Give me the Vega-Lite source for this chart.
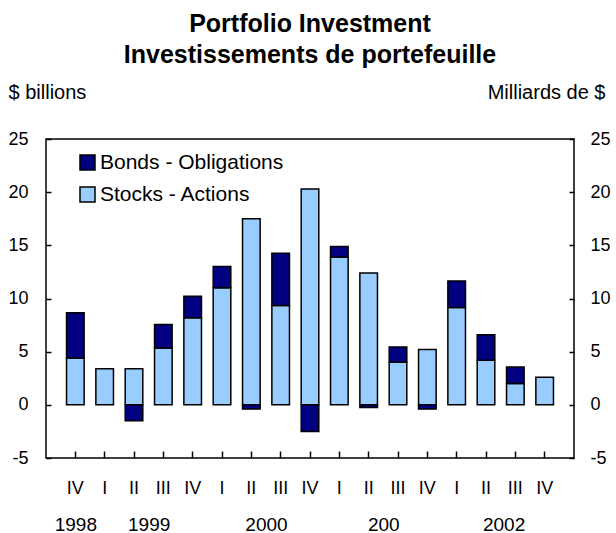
{
  "$schema": "https://vega.github.io/schema/vega-lite/v6.json",
  "autosize": "none",
  "width": 528,
  "height": 319,
  "padding": {"left": 46, "top": 139, "right": 42, "bottom": 75},
  "background": "white",
  "title": {
    "text": ["Portfolio Investment", "Investissements de portefeuille"],
    "fontSize": 25,
    "fontWeight": "bold",
    "color": "black",
    "anchor": "middle",
    "frame": "group",
    "lineHeight": 31,
    "offset": 14
  },
  "config": {
    "font": "Liberation Sans",
    "view": {"stroke": "black", "strokeWidth": 1.5},
    "axis": {"domainColor": "black", "domainWidth": 1.5, "tickColor": "black", "tickWidth": 1.5, "labelColor": "black", "titleColor": "black", "grid": false}
  },
  "resolve": {"scale": {"x": "independent", "y": "independent"}},
  "datasets": {
    "flows": [
      {"q": "1998-IV", "type": "Stocks - Actions", "value": 4.4},
      {"q": "1998-IV", "type": "Bonds - Obligations", "value": 4.25},
      {"q": "1999-I", "type": "Stocks - Actions", "value": 3.4},
      {"q": "1999-II", "type": "Stocks - Actions", "value": 3.4},
      {"q": "1999-II", "type": "Bonds - Obligations", "value": -1.5},
      {"q": "1999-III", "type": "Stocks - Actions", "value": 5.35},
      {"q": "1999-III", "type": "Bonds - Obligations", "value": 2.2},
      {"q": "1999-IV", "type": "Stocks - Actions", "value": 8.2},
      {"q": "1999-IV", "type": "Bonds - Obligations", "value": 2.0},
      {"q": "2000-I", "type": "Stocks - Actions", "value": 11.0},
      {"q": "2000-I", "type": "Bonds - Obligations", "value": 2.0},
      {"q": "2000-II", "type": "Stocks - Actions", "value": 17.5},
      {"q": "2000-II", "type": "Bonds - Obligations", "value": -0.4},
      {"q": "2000-III", "type": "Stocks - Actions", "value": 9.35},
      {"q": "2000-III", "type": "Bonds - Obligations", "value": 4.9},
      {"q": "2000-IV", "type": "Stocks - Actions", "value": 20.3},
      {"q": "2000-IV", "type": "Bonds - Obligations", "value": -2.5},
      {"q": "2001-I", "type": "Stocks - Actions", "value": 13.9},
      {"q": "2001-I", "type": "Bonds - Obligations", "value": 1.0},
      {"q": "2001-II", "type": "Stocks - Actions", "value": 12.4},
      {"q": "2001-II", "type": "Bonds - Obligations", "value": -0.25},
      {"q": "2001-III", "type": "Stocks - Actions", "value": 4.0},
      {"q": "2001-III", "type": "Bonds - Obligations", "value": 1.45},
      {"q": "2001-IV", "type": "Stocks - Actions", "value": 5.2},
      {"q": "2001-IV", "type": "Bonds - Obligations", "value": -0.4},
      {"q": "2002-I", "type": "Stocks - Actions", "value": 9.15},
      {"q": "2002-I", "type": "Bonds - Obligations", "value": 2.5},
      {"q": "2002-II", "type": "Stocks - Actions", "value": 4.2},
      {"q": "2002-II", "type": "Bonds - Obligations", "value": 2.4},
      {"q": "2002-III", "type": "Stocks - Actions", "value": 2.0},
      {"q": "2002-III", "type": "Bonds - Obligations", "value": 1.55},
      {"q": "2002-IV", "type": "Stocks - Actions", "value": 2.6}
    ],
    "years": [
      {"pos": 1, "year": "1998"},
      {"pos": 3.5, "year": "1999"},
      {"pos": 7.5, "year": "2000"},
      {"pos": 11.5, "year": "200"},
      {"pos": 15.6, "year": "2002"}
    ]
  },
  "layer": [
    {
      "data": {"name": "flows"},
      "mark": {"type": "bar", "width": {"band": 0.6}, "stroke": "black", "strokeWidth": 1.5},
      "encoding": {
        "x": {
          "field": "q",
          "type": "nominal",
          "sort": null,
          "scale": {"paddingInner": 0, "paddingOuter": 0.5},
          "axis": {
            "title": null,
            "labelAngle": 0,
            "labelExpr": "split(datum.value, '-')[1]",
            "labelFontSize": 18,
            "ticks": true,
            "tickSize": 7,
            "offset": -7,
            "labelPadding": 21,
            "domain": false
          }
        },
        "y": {
          "field": "value",
          "type": "quantitative",
          "stack": "zero",
          "scale": {"domain": [-5, 25], "nice": false, "zero": false},
          "axis": {
            "values": [-5, 0, 5, 10, 15, 20, 25],
            "labelExpr": "datum.value + ''",
            "labelFontSize": 18,
            "ticks": true,
            "tickSize": 5,
            "offset": -5,
            "domain": false,
            "labelPadding": 18,
            "title": "$ billions",
            "titleAngle": 0,
            "titleAlign": "left",
            "titleBaseline": "middle",
            "titleFontSize": 20,
            "titleFontWeight": "normal",
            "titleX": -43,
            "titleY": -47
          }
        },
        "color": {
          "field": "type",
          "type": "nominal",
          "scale": {"domain": ["Bonds - Obligations", "Stocks - Actions"], "range": ["#000080", "#99CCFF"]},
          "legend": {
            "title": null,
            "orient": "none",
            "legendX": 31,
            "legendY": 13,
            "symbolType": "square",
            "symbolSize": 225,
            "symbolStrokeColor": "black",
            "symbolStrokeWidth": 1.5,
            "labelFontSize": 21,
            "labelColor": "black",
            "labelLimit": 400,
            "rowPadding": 10,
            "labelOffset": 2
          }
        },
        "order": {"field": "type", "sort": "descending"}
      }
    },
    {
      "mark": {"type": "rule", "color": "black", "strokeWidth": 1.5},
      "encoding": {
        "y": {
          "datum": 0,
          "type": "quantitative",
          "scale": {"domain": [-5, 25], "nice": false, "zero": false},
          "axis": {
            "orient": "right",
            "values": [-5, 0, 5, 10, 15, 20, 25],
            "labelExpr": "datum.value + ''",
            "labelFontSize": 18,
            "ticks": true,
            "tickSize": 5,
            "offset": -5,
            "domain": false,
            "labelPadding": 16,
            "title": "Milliards de $",
            "titleAngle": 0,
            "titleAlign": "right",
            "titleBaseline": "middle",
            "titleFontSize": 20,
            "titleFontWeight": "normal",
            "titleX": 36,
            "titleY": -47
          }
        }
      }
    },
    {
      "data": {"name": "years"},
      "mark": {"type": "point", "opacity": 0},
      "encoding": {
        "x": {
          "field": "pos",
          "type": "quantitative",
          "scale": {"domain": [0, 18], "nice": false, "zero": false},
          "axis": {
            "orient": "bottom",
            "title": null,
            "values": [1, 3.5, 7.5, 11.5, 15.6],
            "labelExpr": "datum.value == 1 ? '1998' : datum.value == 3.5 ? '1999' : datum.value == 7.5 ? '2000' : datum.value == 11.5 ? '200' : '2002'",
            "labelFontSize": 19,
            "ticks": false,
            "domain": false,
            "labelPadding": 57,
            "offset": 0
          }
        }
      }
    }
  ]
}
